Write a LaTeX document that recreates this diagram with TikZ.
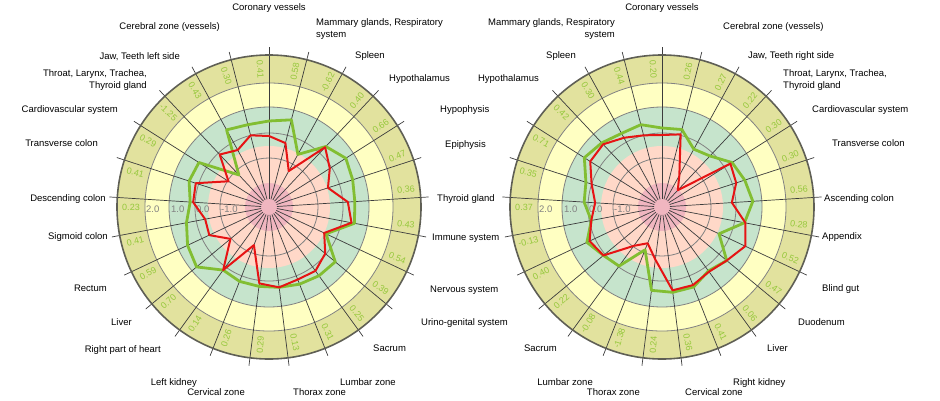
\documentclass[tikz,border=0pt]{standalone}
\usepackage{fontspec}
\setmainfont{Liberation Sans}

\definecolor{ringolive}{RGB}{226,226,158}
\definecolor{ringyellow}{RGB}{255,255,194}
\definecolor{ringgreen}{RGB}{198,228,204}
\definecolor{ringsalmon}{RGB}{255,216,200}
\definecolor{ringpink}{RGB}{240,182,192}
\definecolor{gridgray}{RGB}{130,130,130}
\definecolor{spokegray}{RGB}{60,60,60}
\definecolor{rimgray}{RGB}{95,95,85}
\definecolor{valgreen}{RGB}{150,200,60}
\definecolor{linegreen}{RGB}{130,190,50}
\definecolor{linered}{RGB}{230,20,20}

\tikzset{
  organ/.style={font=\fontsize{9.5}{12.5}\selectfont, inner sep=0pt},
  bandval/.style={font=\fontsize{9}{10}\selectfont, text=valgreen, inner sep=0pt},
  axisval/.style={font=\fontsize{9.5}{11}\selectfont, text=gridgray, inner sep=0pt, anchor=mid west},
  gridcircle/.style={gridgray, line width=0.8pt},
  spoke/.style={spokegray, line width=0.7pt},
  rim/.style={rimgray, line width=1.6pt},
  greenline/.style={linegreen, line width=2.8pt, line join=round},
  redline/.style={linered, line width=2pt, line join=round},
}

% rings, spokes and band values of one chart
\newcommand{\radarback}[2]{%
  \fill[ringolive] (0,0) circle[radius=152];
  \fill[ringyellow] (0,0) circle[radius=124];
  \fill[ringgreen] (0,0) circle[radius=100];
  \fill[ringsalmon] (0,0) circle[radius=61];
  \fill[ringpink] (0,0) circle[radius=24];
  \foreach \r in {49,74,100,124}
    \draw[gridcircle] (0,0) circle[radius=\r];
  \foreach \j in {0,...,24}
    \draw[spoke] ({90-14.4*\j}:8) -- ({90-14.4*\j}:160);
  \draw[rim] (0,0) circle[radius=152];
  \node[axisval] (#1a2) at (-123,-3) {2.0};
  \node[axisval] (#1a1) at (-98,-3) {1.0};
  \node[axisval] (#1a0) at (-73,-3) {0.0};
  \node[axisval] (#1am) at (-48,-3) {-1.0};
  \foreach \v [count=\j from 0] in {#2} {
    \pgfmathsetmacro{\ang}{79.2-14.4*\j}
    \pgfmathsetmacro{\tilt}{cos(\ang)>0 ? \ang : \ang+180}
    \node[bandval, rotate=\tilt] (#1v\j) at (\ang:138) {\v};
  }
}

% closed line through the 25 spokes
\newcommand{\radarpoly}[3]{%
  \foreach \r [count=\j from 0] in {#3}
    \coordinate (#1\j) at ({90-14.4*\j}:\r);
  \draw[#2] (#10) \foreach \j in {1,...,24} {-- (#1\j)} -- cycle;
}

\begin{document}
\begin{tikzpicture}[x=1pt,y=1pt]
\useasboundingbox (0,0) rectangle (940,400);

% Left chart
\begin{scope}[shift={(269,193)}]
  \radarback{l}{0.58,-0.62,0.40,0.66,0.47,0.36,0.43,0.54,0.39,0.25,0.31,0.13,0.29,0.26,0.14,0.70,0.59,0.41,0.23,0.41,0.29,-1.25,0.43,0.30,0.41}
  \radarpoly{lg}{greenline}{86,90,60,83,91,88,86,87,63,86,85,83,81,80,80,78,94,90,84,79,84,83,44,88,85}
  \radarpoly{lr}{redline}{71,66,41,82,72,62,79,84,61,73,79,78,81,77,41,78,50,66,65,76,77,48,72,65,74}

  \node[organ, anchor=mid] (lcor) at (0,199) {Coronary vessels};
  \node[organ, anchor=west, align=left] (lmam) at (47,178) {Mammary glands, Respiratory\\system};
  \node[organ, anchor=mid west] (lspl) at (86,151) {Spleen};
  \node[organ, anchor=mid west] (lhyt) at (120,128) {Hypothalamus};
  \node[organ, anchor=mid west] (lhyp) at (171,97) {Hypophysis};
  \node[organ, anchor=mid west] (lepi) at (176,62) {Epiphysis};
  \node[organ, anchor=mid west] (lthy) at (168,8) {Thyroid gland};
  \node[organ, anchor=mid west] (limm) at (163,-31) {Immune system};
  \node[organ, anchor=mid west] (lner) at (161,-83) {Nervous system};
  \node[organ, anchor=mid west] (luri) at (152,-116) {Urino-genital system};
  \node[organ, anchor=mid west] (lsac) at (104,-142) {Sacrum};
  \node[organ, anchor=mid west] (llum) at (71,-176) {Lumbar zone};
  \node[organ, anchor=mid west] (ltho) at (24,-186) {Thorax zone};
  \node[organ, anchor=mid east] (lcer) at (-24,-186) {Cervical zone};
  \node[organ, anchor=mid east] (lkid) at (-72,-176) {Left kidney};
  \node[organ, anchor=mid east] (lhea) at (-108,-143) {Right part of heart};
  \node[organ, anchor=mid east] (lliv) at (-137,-116) {Liver};
  \node[organ, anchor=mid east] (lrec) at (-162,-82) {Rectum};
  \node[organ, anchor=mid east] (lsig) at (-161,-30) {Sigmoid colon};
  \node[organ, anchor=mid east] (ldes) at (-163,8) {Descending colon};
  \node[organ, anchor=mid east] (ltra) at (-171,63) {Transverse colon};
  \node[organ, anchor=mid east] (lcar) at (-151,97) {Cardiovascular system};
  \node[organ, anchor=east, align=right] (lthr) at (-122,127) {Throat, Larynx, Trachea,\\Thyroid gland};
  \node[organ, anchor=mid east] (ljaw) at (-89,150) {Jaw, Teeth left side};
  \node[organ, anchor=mid east] (lcrb) at (-49,180) {Cerebral zone (vessels)};
\end{scope}

% Right chart
\begin{scope}[shift={(662,193)}]
  \radarback{r}{0.26,0.27,0.22,0.30,0.30,0.56,0.28,0.52,0.47,0.06,0.41,0.36,0.24,-1.38,-0.08,0.22,0.40,-0.13,0.37,0.35,0.71,0.42,0.30,0.44,0.20}
  \radarpoly{rg}{greenline}{79,80,66,70,83,87,91,84,63,84,79,86,86,84,46,73,76,83,72,78,80,92,88,84,85}
  \radarpoly{rr}{redline}{72,75,36,23,81,78,70,85,92,84,80,84,84,53,39,48,76,80,72,67,74,85,86,79,74}

  \node[organ, anchor=mid] (rcor) at (0,199) {Coronary vessels};
  \node[organ, anchor=mid west] (rcrb) at (61,180) {Cerebral zone (vessels)};
  \node[organ, anchor=mid west] (rjaw) at (86,151) {Jaw, Teeth right side};
  \node[organ, anchor=west, align=left] (rthr) at (121,127) {Throat, Larynx, Trachea,\\Thyroid gland};
  \node[organ, anchor=mid west] (rcar) at (150,97) {Cardiovascular system};
  \node[organ, anchor=mid west] (rtra) at (170,63) {Transverse colon};
  \node[organ, anchor=mid west] (rasc) at (162,8) {Ascending colon};
  \node[organ, anchor=mid west] (rapp) at (160,-30) {Appendix};
  \node[organ, anchor=mid west] (rbli) at (160,-82) {Blind gut};
  \node[organ, anchor=mid west] (rduo) at (136,-116) {Duodenum};
  \node[organ, anchor=mid west] (rliv) at (105,-142) {Liver};
  \node[organ, anchor=mid west] (rkid) at (71,-176) {Right kidney};
  \node[organ, anchor=mid west] (rcer) at (23,-186) {Cervical zone};
  \node[organ, anchor=mid east] (rtho) at (-22,-186) {Thorax zone};
  \node[organ, anchor=mid east] (rlum) at (-69,-176) {Lumbar zone};
  \node[organ, anchor=mid east] (rsac) at (-105,-142) {Sacrum};
  \node[organ, anchor=mid east] (rhyt) at (-123,128) {Hypothalamus};
  \node[organ, anchor=mid east] (rspl) at (-86,151) {Spleen};
  \node[organ, anchor=east, align=right] (rmam) at (-47,178) {Mammary glands, Respiratory\\system};
\end{scope}
\end{tikzpicture}
\end{document}
